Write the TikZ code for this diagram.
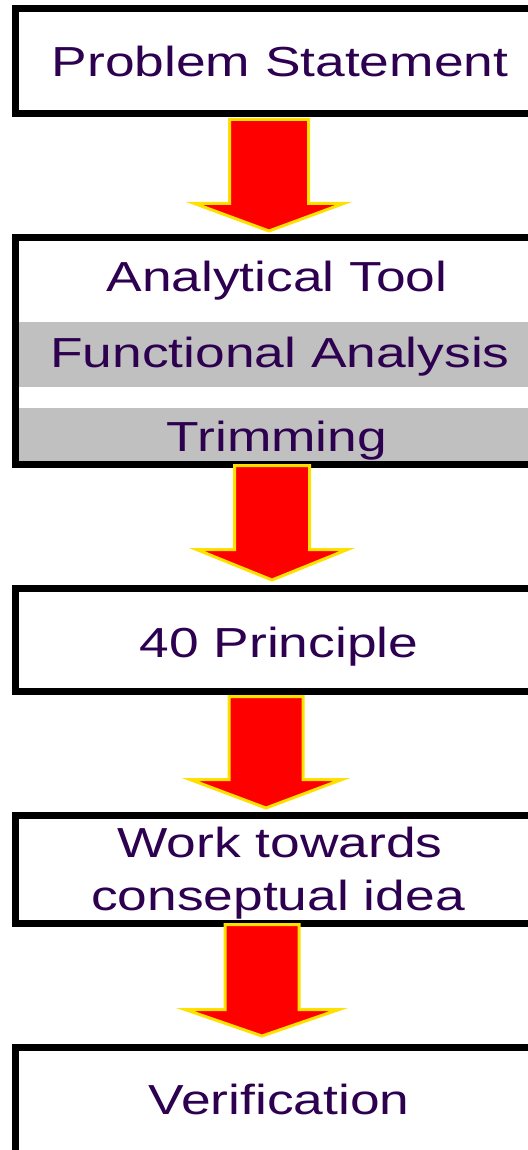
\documentclass[tikz,border=0pt]{standalone}
\usepackage{fontspec}
\setmainfont{Liberation Sans}
\usepackage{graphicx}
\definecolor{txtcol}{RGB}{45,0,80}
\definecolor{bandcol}{RGB}{192,192,192}
\definecolor{arrowfill}{RGB}{255,0,0}
\definecolor{arrowedge}{RGB}{255,225,0}
\tikzset{
  boxframe/.style={draw=black, line width=7pt, inner sep=0pt, minimum width=532.5pt},
  lbl/.style={anchor=base, text=txtcol, font=\fontsize{42}{53}\selectfont, inner sep=0pt},
  blockarrow/.style={fill=arrowfill, draw=arrowedge, line width=3pt, line join=miter},
  bandfill/.style={fill=bandcol, draw=none}
}
\newcommand\widetext[1]{\scalebox{1.27}[1]{#1}}
% cx, top, head y, tip y, shaft half width, head half width
\newcommand\tzarrow[6]{%
  \fill[blockarrow] (#1-#5,#2) -- (#1+#5,#2) -- (#1+#5,#3) -- (#1+#6,#3) -- (#1,#4)
    -- (#1-#6,#3) -- (#1-#5,#3) -- cycle;}
\begin{document}
\begin{tikzpicture}[x=1pt,y=-1pt]
\useasboundingbox (0,0) rectangle (527,1150);
\fill[white] (0,0) rectangle (527,1150);
% grey bands of the analytical tool box
\path[bandfill] (19,322) rectangle (560,387);
\path[bandfill] (19,408) rectangle (560,461);
% boxes
\node[boxframe, minimum height=105pt] (b1) at (281.75,61) {};
\node[boxframe, minimum height=226pt] (b2) at (281.75,351) {};
\node[boxframe, minimum height=103pt] (b3) at (281.75,639.5) {};
\node[boxframe, minimum height=108pt] (b4) at (281.75,869) {};
\node[boxframe, minimum height=153pt] (b5) at (281.75,1123.5) {};
% labels
\node[lbl] (t1) at (280,77) {\widetext{Problem Statement}};
\node[lbl] (t2) at (277,291) {\widetext{Analytical Tool}};
\node[lbl] (t3) at (280,367) {\widetext{Functional Analysis}};
\node[lbl] (t4) at (277,451) {\widetext{Trimming}};
\node[lbl] (t5) at (279,657) {\widetext{40 Principle}};
\node[lbl] (t6) at (280,857) {\widetext{Work towards}};
\node[lbl] (t7) at (278,910) {\widetext{conseptual idea}};
\node[lbl] (t8) at (279,1114) {\widetext{Verification}};
% block arrows
\tzarrow{269}{119.5}{203.5}{231}{39.5}{74.5}
\tzarrow{272}{465.5}{549.5}{580}{37.5}{75.5}
\tzarrow{266}{696.5}{779.5}{808}{37}{76}
\tzarrow{262}{924.5}{1009.5}{1036}{37}{77}
\end{tikzpicture}
\end{document}
